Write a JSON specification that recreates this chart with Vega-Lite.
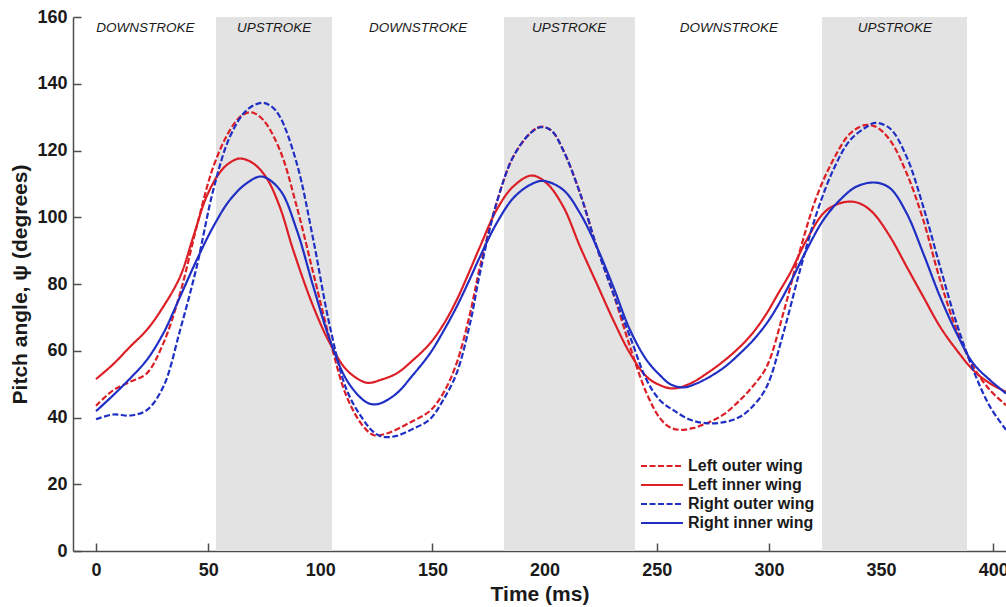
{
  "$schema": "https://vega.github.io/schema/vega-lite/v6.json",
  "autosize": {"type": "none"},
  "width": 933,
  "height": 534,
  "padding": {"left": 73, "top": 17, "right": 0, "bottom": 56},
  "background": "white",
  "config": {
    "view": {"stroke": null},
    "font": "Liberation Sans",
    "axis": {"grid": false, "domainColor": "#4d4d4d", "tickColor": "#4d4d4d", "domainWidth": 1.5, "tickWidth": 1.5,
      "labelFont": "Liberation Sans", "labelFontWeight": "bold", "labelFontSize": 18, "labelColor": "#1a1a1a",
      "titleFont": "Liberation Sans", "titleFontWeight": "bold", "titleFontSize": 21, "titleColor": "#1a1a1a"}
  },
  "datasets": {
    "bands": [
      {"start": 53.5, "end": 105.2},
      {"start": 181.9, "end": 240.3},
      {"start": 323.7, "end": 388.3}
    ],
    "phases": [
      {"t": 22, "phase": "DOWNSTROKE"},
      {"t": 79.4, "phase": "UPSTROKE"},
      {"t": 143.6, "phase": "DOWNSTROKE"},
      {"t": 210.9, "phase": "UPSTROKE"},
      {"t": 282.2, "phase": "DOWNSTROKE"},
      {"t": 356.2, "phase": "UPSTROKE"}
    ],
    "curves": [
      {"series": "Left outer wing", "t": 0, "v": 43.5},
      {"series": "Left outer wing", "t": 7.7, "v": 48.2},
      {"series": "Left outer wing", "t": 15.2, "v": 50.7},
      {"series": "Left outer wing", "t": 22.6, "v": 53.2},
      {"series": "Left outer wing", "t": 30, "v": 62.2},
      {"series": "Left outer wing", "t": 37.5, "v": 77.2},
      {"series": "Left outer wing", "t": 44.9, "v": 97.2},
      {"series": "Left outer wing", "t": 52.3, "v": 115.1},
      {"series": "Left outer wing", "t": 59.7, "v": 126.1},
      {"series": "Left outer wing", "t": 65, "v": 130.5},
      {"series": "Left outer wing", "t": 69.4, "v": 131.4},
      {"series": "Left outer wing", "t": 74.6, "v": 129.1},
      {"series": "Left outer wing", "t": 82, "v": 120.1},
      {"series": "Left outer wing", "t": 89.5, "v": 103.2},
      {"series": "Left outer wing", "t": 96.9, "v": 83.2},
      {"series": "Left outer wing", "t": 104.3, "v": 63.2},
      {"series": "Left outer wing", "t": 111.8, "v": 46.2},
      {"series": "Left outer wing", "t": 119.2, "v": 37.3},
      {"series": "Left outer wing", "t": 124, "v": 34.7},
      {"series": "Left outer wing", "t": 130, "v": 35.3},
      {"series": "Left outer wing", "t": 140, "v": 38.5},
      {"series": "Left outer wing", "t": 148.9, "v": 42},
      {"series": "Left outer wing", "t": 155, "v": 47.5},
      {"series": "Left outer wing", "t": 160.8, "v": 56.3},
      {"series": "Left outer wing", "t": 166.8, "v": 71.3},
      {"series": "Left outer wing", "t": 171.2, "v": 85.2},
      {"series": "Left outer wing", "t": 178.6, "v": 104.3},
      {"series": "Left outer wing", "t": 186, "v": 118.1},
      {"series": "Left outer wing", "t": 193.5, "v": 125.1},
      {"series": "Left outer wing", "t": 198, "v": 127.1},
      {"series": "Left outer wing", "t": 203, "v": 126},
      {"series": "Left outer wing", "t": 208.3, "v": 120.1},
      {"series": "Left outer wing", "t": 215.8, "v": 107.2},
      {"series": "Left outer wing", "t": 223.2, "v": 91.2},
      {"series": "Left outer wing", "t": 230.6, "v": 77.2},
      {"series": "Left outer wing", "t": 238.1, "v": 61.2},
      {"series": "Left outer wing", "t": 245.5, "v": 47.2},
      {"series": "Left outer wing", "t": 251.4, "v": 39.8},
      {"series": "Left outer wing", "t": 256, "v": 37},
      {"series": "Left outer wing", "t": 260.4, "v": 36.3},
      {"series": "Left outer wing", "t": 266, "v": 36.8},
      {"series": "Left outer wing", "t": 272.3, "v": 38.3},
      {"series": "Left outer wing", "t": 280, "v": 41},
      {"series": "Left outer wing", "t": 287.1, "v": 45.2},
      {"series": "Left outer wing", "t": 293, "v": 49.5},
      {"series": "Left outer wing", "t": 299, "v": 55.2},
      {"series": "Left outer wing", "t": 306.4, "v": 71.2},
      {"series": "Left outer wing", "t": 313.9, "v": 90.2},
      {"series": "Left outer wing", "t": 321.3, "v": 106.2},
      {"series": "Left outer wing", "t": 328.7, "v": 117.2},
      {"series": "Left outer wing", "t": 336.2, "v": 125.1},
      {"series": "Left outer wing", "t": 342.8, "v": 127.6},
      {"series": "Left outer wing", "t": 348, "v": 127},
      {"series": "Left outer wing", "t": 354, "v": 123.1},
      {"series": "Left outer wing", "t": 361.4, "v": 113.2},
      {"series": "Left outer wing", "t": 368.8, "v": 99.2},
      {"series": "Left outer wing", "t": 376.3, "v": 81.2},
      {"series": "Left outer wing", "t": 383.7, "v": 66.2},
      {"series": "Left outer wing", "t": 391.1, "v": 55.2},
      {"series": "Left outer wing", "t": 398.6, "v": 48.2},
      {"series": "Left outer wing", "t": 405.7, "v": 43.7},

      {"series": "Left inner wing", "t": 0, "v": 51.5},
      {"series": "Left inner wing", "t": 7.7, "v": 56},
      {"series": "Left inner wing", "t": 15.2, "v": 61.2},
      {"series": "Left inner wing", "t": 22.6, "v": 66.2},
      {"series": "Left inner wing", "t": 30, "v": 73.2},
      {"series": "Left inner wing", "t": 37.5, "v": 82.2},
      {"series": "Left inner wing", "t": 43.4, "v": 94.2},
      {"series": "Left inner wing", "t": 49.3, "v": 106.2},
      {"series": "Left inner wing", "t": 55.3, "v": 113.5},
      {"series": "Left inner wing", "t": 60, "v": 116.5},
      {"series": "Left inner wing", "t": 64.2, "v": 117.6},
      {"series": "Left inner wing", "t": 70, "v": 116.2},
      {"series": "Left inner wing", "t": 76, "v": 111.8},
      {"series": "Left inner wing", "t": 82, "v": 103},
      {"series": "Left inner wing", "t": 88, "v": 90},
      {"series": "Left inner wing", "t": 96.9, "v": 73.2},
      {"series": "Left inner wing", "t": 104.3, "v": 62.2},
      {"series": "Left inner wing", "t": 111.8, "v": 54.2},
      {"series": "Left inner wing", "t": 119.2, "v": 50.7},
      {"series": "Left inner wing", "t": 122.2, "v": 50.4},
      {"series": "Left inner wing", "t": 126.6, "v": 51.2},
      {"series": "Left inner wing", "t": 134, "v": 53.2},
      {"series": "Left inner wing", "t": 141, "v": 57},
      {"series": "Left inner wing", "t": 148.9, "v": 62.2},
      {"series": "Left inner wing", "t": 155, "v": 68},
      {"series": "Left inner wing", "t": 160.8, "v": 75.2},
      {"series": "Left inner wing", "t": 166, "v": 83},
      {"series": "Left inner wing", "t": 171.2, "v": 91.2},
      {"series": "Left inner wing", "t": 178.6, "v": 102.2},
      {"series": "Left inner wing", "t": 186, "v": 109.2},
      {"series": "Left inner wing", "t": 194.2, "v": 112.5},
      {"series": "Left inner wing", "t": 200.9, "v": 110.2},
      {"series": "Left inner wing", "t": 208.3, "v": 103.2},
      {"series": "Left inner wing", "t": 215.8, "v": 91.2},
      {"series": "Left inner wing", "t": 223.2, "v": 80.2},
      {"series": "Left inner wing", "t": 230.6, "v": 69.2},
      {"series": "Left inner wing", "t": 238.1, "v": 59.2},
      {"series": "Left inner wing", "t": 245.5, "v": 52.2},
      {"series": "Left inner wing", "t": 251.4, "v": 49.7},
      {"series": "Left inner wing", "t": 257.4, "v": 48.7},
      {"series": "Left inner wing", "t": 265, "v": 50.2},
      {"series": "Left inner wing", "t": 272.3, "v": 53.2},
      {"series": "Left inner wing", "t": 280, "v": 57},
      {"series": "Left inner wing", "t": 287.1, "v": 61.2},
      {"series": "Left inner wing", "t": 293, "v": 65.5},
      {"series": "Left inner wing", "t": 299, "v": 71.2},
      {"series": "Left inner wing", "t": 304, "v": 77},
      {"series": "Left inner wing", "t": 309.4, "v": 83.2},
      {"series": "Left inner wing", "t": 316.8, "v": 93.2},
      {"series": "Left inner wing", "t": 324.3, "v": 101.2},
      {"series": "Left inner wing", "t": 330, "v": 103.8},
      {"series": "Left inner wing", "t": 336.2, "v": 104.7},
      {"series": "Left inner wing", "t": 341, "v": 104},
      {"series": "Left inner wing", "t": 346.6, "v": 101.2},
      {"series": "Left inner wing", "t": 354, "v": 94.2},
      {"series": "Left inner wing", "t": 361.4, "v": 85.2},
      {"series": "Left inner wing", "t": 368.8, "v": 76.2},
      {"series": "Left inner wing", "t": 376.3, "v": 67.2},
      {"series": "Left inner wing", "t": 383.7, "v": 60.2},
      {"series": "Left inner wing", "t": 391.1, "v": 54.2},
      {"series": "Left inner wing", "t": 398.6, "v": 50.2},
      {"series": "Left inner wing", "t": 405.7, "v": 47.7},

      {"series": "Right outer wing", "t": 0, "v": 39.5},
      {"series": "Right outer wing", "t": 7.7, "v": 40.9},
      {"series": "Right outer wing", "t": 15.2, "v": 40.6},
      {"series": "Right outer wing", "t": 22.6, "v": 42.2},
      {"series": "Right outer wing", "t": 30, "v": 49.2},
      {"series": "Right outer wing", "t": 37.5, "v": 66.2},
      {"series": "Right outer wing", "t": 44.9, "v": 85.2},
      {"series": "Right outer wing", "t": 52.3, "v": 108.2},
      {"series": "Right outer wing", "t": 59.7, "v": 124.1},
      {"series": "Right outer wing", "t": 67.2, "v": 132.1},
      {"series": "Right outer wing", "t": 73.9, "v": 134.3},
      {"series": "Right outer wing", "t": 78, "v": 133.3},
      {"series": "Right outer wing", "t": 82, "v": 130.1},
      {"series": "Right outer wing", "t": 89.5, "v": 116.2},
      {"series": "Right outer wing", "t": 96.9, "v": 93.2},
      {"series": "Right outer wing", "t": 104.3, "v": 67.2},
      {"series": "Right outer wing", "t": 111.8, "v": 48.2},
      {"series": "Right outer wing", "t": 119.2, "v": 39.3},
      {"series": "Right outer wing", "t": 124, "v": 35.5},
      {"series": "Right outer wing", "t": 128, "v": 34.2},
      {"series": "Right outer wing", "t": 134, "v": 34.5},
      {"series": "Right outer wing", "t": 141, "v": 36.5},
      {"series": "Right outer wing", "t": 148.9, "v": 39.5},
      {"series": "Right outer wing", "t": 155, "v": 45.5},
      {"series": "Right outer wing", "t": 160.8, "v": 53.3},
      {"series": "Right outer wing", "t": 166.8, "v": 68.3},
      {"series": "Right outer wing", "t": 171.2, "v": 83.3},
      {"series": "Right outer wing", "t": 178.6, "v": 104.3},
      {"series": "Right outer wing", "t": 186, "v": 118.1},
      {"series": "Right outer wing", "t": 193.5, "v": 125.1},
      {"series": "Right outer wing", "t": 198.5, "v": 127},
      {"series": "Right outer wing", "t": 203, "v": 126},
      {"series": "Right outer wing", "t": 208.3, "v": 120.1},
      {"series": "Right outer wing", "t": 215.8, "v": 107.2},
      {"series": "Right outer wing", "t": 223.2, "v": 91.2},
      {"series": "Right outer wing", "t": 230.6, "v": 77.2},
      {"series": "Right outer wing", "t": 238.1, "v": 64.2},
      {"series": "Right outer wing", "t": 245.5, "v": 51.2},
      {"series": "Right outer wing", "t": 251.4, "v": 45.2},
      {"series": "Right outer wing", "t": 257.4, "v": 42.2},
      {"series": "Right outer wing", "t": 265, "v": 39.3},
      {"series": "Right outer wing", "t": 272.3, "v": 38.3},
      {"series": "Right outer wing", "t": 280, "v": 38.6},
      {"series": "Right outer wing", "t": 287.1, "v": 40.2},
      {"series": "Right outer wing", "t": 293, "v": 43.5},
      {"series": "Right outer wing", "t": 299, "v": 49.2},
      {"series": "Right outer wing", "t": 306.4, "v": 65.2},
      {"series": "Right outer wing", "t": 313.9, "v": 84.2},
      {"series": "Right outer wing", "t": 321.3, "v": 101.2},
      {"series": "Right outer wing", "t": 328.7, "v": 114.2},
      {"series": "Right outer wing", "t": 336.2, "v": 123.1},
      {"series": "Right outer wing", "t": 343.6, "v": 127.1},
      {"series": "Right outer wing", "t": 347.3, "v": 128.3},
      {"series": "Right outer wing", "t": 354, "v": 126.6},
      {"series": "Right outer wing", "t": 361.4, "v": 118.1},
      {"series": "Right outer wing", "t": 368.8, "v": 103.2},
      {"series": "Right outer wing", "t": 376.3, "v": 85.2},
      {"series": "Right outer wing", "t": 383.7, "v": 68.2},
      {"series": "Right outer wing", "t": 391.1, "v": 54.2},
      {"series": "Right outer wing", "t": 398.6, "v": 43.2},
      {"series": "Right outer wing", "t": 405.7, "v": 36.3},

      {"series": "Right inner wing", "t": 0, "v": 41.9},
      {"series": "Right inner wing", "t": 7.7, "v": 46.7},
      {"series": "Right inner wing", "t": 15.2, "v": 51.7},
      {"series": "Right inner wing", "t": 22.6, "v": 57.2},
      {"series": "Right inner wing", "t": 30, "v": 65.2},
      {"series": "Right inner wing", "t": 37.5, "v": 76.2},
      {"series": "Right inner wing", "t": 44.9, "v": 87.2},
      {"series": "Right inner wing", "t": 52.3, "v": 97.2},
      {"series": "Right inner wing", "t": 59.7, "v": 105.2},
      {"series": "Right inner wing", "t": 67.2, "v": 110.2},
      {"series": "Right inner wing", "t": 73.9, "v": 112.2},
      {"series": "Right inner wing", "t": 82, "v": 108.2},
      {"series": "Right inner wing", "t": 89.5, "v": 96.2},
      {"series": "Right inner wing", "t": 96.9, "v": 79.2},
      {"series": "Right inner wing", "t": 104.3, "v": 63.2},
      {"series": "Right inner wing", "t": 111.8, "v": 51.2},
      {"series": "Right inner wing", "t": 119.2, "v": 45.2},
      {"series": "Right inner wing", "t": 122.9, "v": 44},
      {"series": "Right inner wing", "t": 126.6, "v": 44.2},
      {"series": "Right inner wing", "t": 134, "v": 47.2},
      {"series": "Right inner wing", "t": 141, "v": 52.5},
      {"series": "Right inner wing", "t": 148.9, "v": 59.2},
      {"series": "Right inner wing", "t": 155, "v": 66},
      {"series": "Right inner wing", "t": 160.8, "v": 73.2},
      {"series": "Right inner wing", "t": 166, "v": 80.5},
      {"series": "Right inner wing", "t": 171.2, "v": 88.2},
      {"series": "Right inner wing", "t": 178.6, "v": 98.2},
      {"series": "Right inner wing", "t": 186, "v": 105.7},
      {"series": "Right inner wing", "t": 193.5, "v": 109.7},
      {"series": "Right inner wing", "t": 199.4, "v": 110.9},
      {"series": "Right inner wing", "t": 208.3, "v": 108.2},
      {"series": "Right inner wing", "t": 215.8, "v": 101.2},
      {"series": "Right inner wing", "t": 223.2, "v": 91.2},
      {"series": "Right inner wing", "t": 230.6, "v": 79.2},
      {"series": "Right inner wing", "t": 238.1, "v": 66.2},
      {"series": "Right inner wing", "t": 245.5, "v": 57.2},
      {"series": "Right inner wing", "t": 251.4, "v": 52.7},
      {"series": "Right inner wing", "t": 256, "v": 50},
      {"series": "Right inner wing", "t": 261.8, "v": 49},
      {"series": "Right inner wing", "t": 267, "v": 50},
      {"series": "Right inner wing", "t": 272.3, "v": 51.7},
      {"series": "Right inner wing", "t": 280, "v": 55},
      {"series": "Right inner wing", "t": 287.1, "v": 59.2},
      {"series": "Right inner wing", "t": 293, "v": 63.2},
      {"series": "Right inner wing", "t": 299, "v": 68.2},
      {"series": "Right inner wing", "t": 304, "v": 73.5},
      {"series": "Right inner wing", "t": 309.4, "v": 80.2},
      {"series": "Right inner wing", "t": 316.8, "v": 90.2},
      {"series": "Right inner wing", "t": 324.3, "v": 99.2},
      {"series": "Right inner wing", "t": 331.7, "v": 105.2},
      {"series": "Right inner wing", "t": 339.1, "v": 109.2},
      {"series": "Right inner wing", "t": 347.3, "v": 110.4},
      {"series": "Right inner wing", "t": 354, "v": 108.7},
      {"series": "Right inner wing", "t": 361.4, "v": 101.2},
      {"series": "Right inner wing", "t": 368.8, "v": 89.2},
      {"series": "Right inner wing", "t": 376.3, "v": 76.2},
      {"series": "Right inner wing", "t": 383.7, "v": 65.2},
      {"series": "Right inner wing", "t": 391.1, "v": 56.2},
      {"series": "Right inner wing", "t": 398.6, "v": 51.2},
      {"series": "Right inner wing", "t": 405.7, "v": 47.2}
    ]
  },
  "layer": [
    {
      "data": {"name": "bands"},
      "mark": {"type": "rect", "color": "#e3e3e3"},
      "encoding": {
        "x": {"field": "start", "type": "quantitative", "scale": {"domain": [-10.25, 405.7], "nice": false, "zero": false},
          "axis": {"title": "Time (ms)", "values": [0, 50, 100, 150, 200, 250, 300, 350, 400], "tickSize": -8, "labelPadding": 18, "titlePadding": 4}},
        "x2": {"field": "end"}
      }
    },
    {
      "data": {"name": "phases"},
      "mark": {"type": "text", "fontStyle": "italic", "fontSize": 13.5, "font": "Liberation Sans", "color": "#1a1a1a", "dy": 1},
      "encoding": {
        "x": {"field": "t", "type": "quantitative"},
        "y": {"datum": 157},
        "text": {"field": "phase"}
      }
    },
    {
      "data": {"name": "curves"},
      "mark": {"type": "line", "interpolate": "catmull-rom", "strokeWidth": 2.2, "clip": true},
      "encoding": {
        "x": {"field": "t", "type": "quantitative"},
        "y": {"field": "v", "type": "quantitative", "scale": {"domain": [0, 160], "nice": false},
          "axis": {"title": "Pitch angle, ψ (degrees)", "values": [0, 20, 40, 60, 80, 100, 120, 140, 160], "tickSize": -8, "labelPadding": 14, "titlePadding": 6}},
        "detail": {"field": "series"},
        "color": {"field": "series", "type": "nominal",
          "scale": {"domain": ["Left outer wing", "Left inner wing", "Right outer wing", "Right inner wing"], "range": ["#dc1f26", "#dc1f26", "#1f2fc4", "#1f2fc4"]},
          "legend": {"title": null, "orient": "none", "legendX": 581, "legendY": 441, "symbolType": "M-4,0H4", "symbolSize": 110, "symbolStrokeWidth": 2.2, "symbolFillColor": "transparent", "rowPadding": 3,
            "labelFont": "Liberation Sans", "labelFontWeight": "bold", "labelFontSize": 16, "labelColor": "#1a1a1a", "labelOffset": 18}},
        "strokeDash": {"field": "series", "type": "nominal",
          "scale": {"domain": ["Left outer wing", "Left inner wing", "Right outer wing", "Right inner wing"], "range": [[6, 2.5], [1, 0], [6, 2.5], [1, 0]]},
          "legend": null}
      }
    }
  ]
}
